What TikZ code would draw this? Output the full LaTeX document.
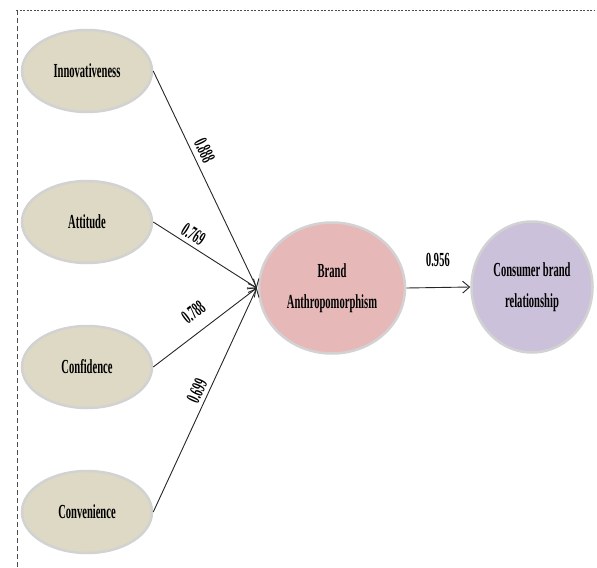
\documentclass[tikz,border=0pt]{standalone}
\usepackage{fontspec}
\newfontfamily\cond[FakeStretch=0.53]{Liberation Serif}
\usetikzlibrary{arrows.meta,shapes.geometric}
\definecolor{tanfill}{HTML}{DDD9C4}
\definecolor{pinkfill}{HTML}{E6B9B8}
\definecolor{lilacfill}{HTML}{CCC1DA}
\definecolor{rimgray}{HTML}{D2D2D2}
\tikzset{
  construct/.style={ellipse, draw=rimgray, line width=2.5bp, inner sep=0pt,
    align=center, font=\cond\bfseries\fontsize{20}{31}\selectfont},
  leftc/.style={construct, fill=tanfill, minimum width=130bp, minimum height=82bp},
  path/.style={draw=black!85, line width=0.9bp, -{Straight Barb[length=7bp,width=12bp]}},
  coef/.style={font=\cond\bfseries\fontsize{20}{22}\selectfont, inner sep=0pt, sloped},
  frame/.style={draw=black!70, line width=0.8bp}
}
\begin{document}
\begin{tikzpicture}[x=1bp,y=-1bp]
\useasboundingbox (0,0) rectangle (597,568);
\draw[frame, dash pattern=on 2bp off 1.5bp] (16,10) -- (595,10);
\draw[frame, dash pattern=on 5bp off 3bp] (17,10) -- (17,568);

\node[leftc] (inn) at (87,71) {Innovativeness};
\node[leftc] (att) at (87,222) {Attitude};
\node[leftc] (con) at (87,367) {Confidence};
\node[leftc] (cnv) at (87,512) {Convenience};
\node[construct, fill=pinkfill, minimum width=146bp, minimum height=131bp] (ba) at (332,288) {Brand\\Anthropomorphism};
\node[construct, fill=lilacfill, minimum width=121bp, minimum height=131bp] (cbr) at (532,287) {Consumer brand\\relationship};

\coordinate (tip) at ([xshift=-1bp]ba.west);

\draw[path] (inn.east) -- node[coef, pos=0.39, above=5bp] {0.888} (tip);
\draw[path] (att.east) -- node[coef, pos=0.33, above=4bp] {0.769} (tip);
\draw[path] (con.east) -- node[coef, pos=0.5, above=12bp] {0.788} (tip);
\draw[path] (cnv.east) -- node[coef, pos=0.52, above=4bp] {0.699} (tip);
\draw[path] (ba.east) -- node[coef, midway, above=20bp] {0.956} (cbr.west);
\end{tikzpicture}
\end{document}
